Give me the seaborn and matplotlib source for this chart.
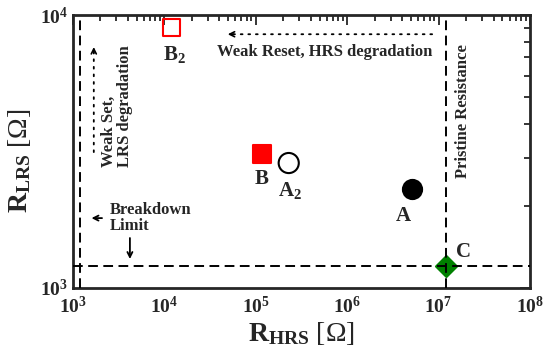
import numpy as np
import matplotlib
matplotlib.use("Agg")
import matplotlib.pyplot as plt
import seaborn as sns
from matplotlib.ticker import LogLocator, FuncFormatter, NullFormatter

# ---- data ----
names = ["B2", "B", "A2", "A", "C"]
labels = [r"$\mathbf{B_2}$", r"$\mathbf{B}$", r"$\mathbf{A_2}$", r"$\mathbf{A}$", r"$\mathbf{C}$"]
r_hrs = [1.2e4, 1.17e5, 2.3e5, 5.1e6, 1.2e7]
r_lrs = [9.0e3, 3.1e3, 2.87e3, 2.3e3, 1.2e3]
markers = ["s", "s", "o", "o", "D"]
face = ["none", "red", "none", "black", "green"]
edge = ["red", "red", "black", "black", "green"]
sizes = [150, 170, 210, 190, 115]
label_off = [(2, -19), (0, -18), (1, -20), (-6, -19), (12, 10)]

breakdown_hrs = 1.2e3
breakdown_lrs = 1.2e3
pristine_hrs = 1.2e7
xlim = [1e3, 1e8]
ylim = [1e3, 1e4]

sns.set_style("white")
plt.rcParams["font.family"] = ["Liberation Serif", "DejaVu Serif"]
plt.rcParams["font.weight"] = "bold"
plt.rcParams["mathtext.fontset"] = "custom"
plt.rcParams["mathtext.rm"] = "Liberation Serif"
plt.rcParams["mathtext.bf"] = "Liberation Serif:bold"
plt.rcParams["mathtext.it"] = "Liberation Serif:italic"

fig = plt.figure(figsize=(5.43, 3.52), dpi=100)
ax = fig.add_axes([0.134, 0.182, 0.842, 0.775])

for i in range(len(names)):
    sns.scatterplot(x=[r_hrs[i]], y=[r_lrs[i]], marker=markers[i], s=sizes[i],
                    facecolor=face[i], edgecolor=edge[i], linewidth=1.5,
                    ax=ax, zorder=3, legend=False)
    ax.annotate(labels[i], (r_hrs[i], r_lrs[i]), xytext=label_off[i],
                textcoords="offset points", ha="center", va="center",
                fontsize=15)

dash = dict(color="black", lw=1.4, ls=(0, (5, 2.8)), zorder=4)
ax.axvline(breakdown_hrs, **dash)
ax.axhline(breakdown_lrs, **dash)
ax.axvline(pristine_hrs, **dash)

ax.set_xscale("log")
ax.set_yscale("log")
ax.set_xlim(xlim)
ax.set_ylim(ylim)

fmt = FuncFormatter(lambda v, p: r"$\mathbf{10^{%d}}$" % round(np.log10(v)))
for axis in (ax.xaxis, ax.yaxis):
    axis.set_major_locator(LogLocator(base=10))
    axis.set_minor_locator(LogLocator(base=10, subs=np.arange(2, 10)))
    axis.set_major_formatter(fmt)
    axis.set_minor_formatter(NullFormatter())
ax.tick_params(which="both", direction="in", top=True, right=True, labelsize=14, width=1.3)
ax.tick_params(which="major", length=7)
ax.tick_params(which="minor", length=4)
ax.tick_params(axis="x", pad=6)
for s in ax.spines.values():
    s.set_linewidth(2)
    s.set_visible(True)

ax.set_xlabel(r"$\mathbf{R_{HRS}}$ [Ω]", fontsize=20, fontweight="normal")
ax.set_ylabel(r"$\mathbf{R_{LRS}}$ [Ω]", fontsize=20, fontweight="normal")
ax.xaxis.set_label_coords(0.5, -0.118)
ax.yaxis.set_label_coords(-0.088, 0.465)

# annotations
tr = ax.transAxes
dot = dict(arrowstyle="-", lw=1.3, ls=(0, (1, 3.2)), color="black", shrinkA=0, shrinkB=0)
head = dict(arrowstyle="->", lw=1.2, color="black", shrinkA=0, shrinkB=0, mutation_scale=9)
ax.annotate("", xy=(0.35, 0.930), xytext=(0.786, 0.930), xycoords=tr, arrowprops=dot)
ax.annotate("", xy=(0.339, 0.930), xytext=(0.352, 0.930), xycoords=tr, arrowprops=head)
ax.text(0.551, 0.864, "Weak Reset, HRS degradation", transform=tr, ha="center", va="center", fontsize=12)

ax.annotate("", xy=(0.046, 0.865), xytext=(0.046, 0.498), xycoords=tr, arrowprops=dot)
ax.annotate("", xy=(0.046, 0.883), xytext=(0.046, 0.862), xycoords=tr, arrowprops=head)
ax.text(0.097, 0.665, "Weak Set,\nLRS degradation", transform=tr, rotation=90,
        ha="center", va="center", multialignment="left", fontsize=12, linespacing=1.0)

ax.text(0.853, 0.648, "Pristine Resistance", transform=tr, rotation=90,
        ha="center", va="center", fontsize=12)

ax.text(0.081, 0.256, "Breakdown\nLimit", transform=tr, ha="left", va="center", fontsize=12, linespacing=1.0)
solid = dict(arrowstyle="->", lw=1.3, color="black", shrinkA=0, shrinkB=0, mutation_scale=9)
ax.annotate("", xy=(0.041, 0.256), xytext=(0.064, 0.256), xycoords=tr, arrowprops=solid)
ax.annotate("", xy=(0.125, 0.106), xytext=(0.125, 0.183), xycoords=tr, arrowprops=solid)

fig.savefig("out.png", dpi=100)
